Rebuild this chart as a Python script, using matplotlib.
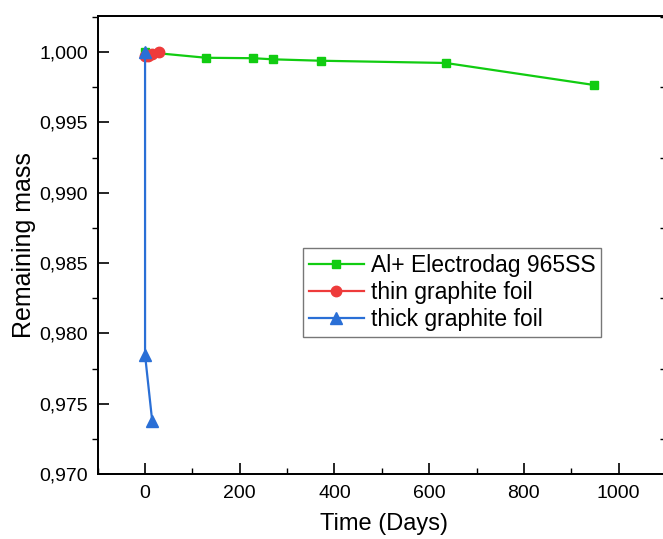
import matplotlib
matplotlib.use("Agg")
import matplotlib.pyplot as plt
from matplotlib.ticker import MultipleLocator, FuncFormatter

plt.rcParams['font.family'] = ['Liberation Sans', 'DejaVu Sans']

# Data
green_x = [0, 129, 228, 270, 371, 635, 949]
green_y = [1.0000, 0.99959, 0.99956, 0.99948, 0.99938, 0.99922, 0.99765]
red_x = [0, 7, 14, 30]
red_y = [0.99975, 0.99972, 0.99985, 1.00000]
blue_x = [0, 0, 15]
blue_y = [1.0000, 0.97846, 0.97379]

labels = ["Al+ Electrodag 965SS", "thin graphite foil", "thick graphite foil"]
green_c = '#11cc11'
red_c = '#ee3b3b'
blue_c = '#2a6fd6'

fig = plt.figure(figsize=(6.63, 5.39), dpi=100)
L, R, B, T = 97.7, 670, 474, 16
ax = fig.add_axes([L/663, (539-B)/539, (R-L)/663, (B-T)/539])

ax.plot(green_x, green_y, color=green_c, lw=1.6, marker='s', ms=6.2, label=labels[0])
ax.plot(red_x, red_y, color=red_c, lw=1.6, marker='o', ms=7.5, label=labels[1])
ax.plot(blue_x, blue_y, color=blue_c, lw=1.6, marker='^', ms=9, label=labels[2])

ax.set_xlim(-100, 1100 + (R-666)/0.474)
ax.set_ylim(0.970, 1.00256)
ax.xaxis.set_major_locator(MultipleLocator(200))
ax.xaxis.set_minor_locator(MultipleLocator(100))
ax.yaxis.set_major_locator(MultipleLocator(0.005))
ax.yaxis.set_minor_locator(MultipleLocator(0.0025))
ax.yaxis.set_major_formatter(FuncFormatter(lambda v, p: f"{v:.3f}".replace('.', ',')))

for s in ax.spines.values():
    s.set_linewidth(1.3)

ax.tick_params(axis='x', which='major', direction='in', length=8, width=1.2, labelsize=14, pad=8)
ax.tick_params(axis='x', which='minor', direction='in', length=4, width=1.0)
ax.tick_params(axis='y', which='major', direction='in', length=8, width=1.2, labelsize=14, pad=7)
ax.tick_params(axis='y', which='minor', direction='out', length=4, width=1.0)

ax2 = ax.twinx()
ax2.set_ylim(ax.get_ylim())
ax2.yaxis.set_major_locator(MultipleLocator(0.005))
ax2.yaxis.set_minor_locator(MultipleLocator(0.0025))
ax2.tick_params(axis='y', which='major', direction='out', length=8, width=1.0, labelright=False)
ax2.tick_params(axis='y', which='minor', direction='in', length=7, width=1.0)
for s in ax2.spines.values():
    s.set_linewidth(1.3)

ax.set_xlabel("Time (Days)", fontsize=17, labelpad=8)
ax.set_ylabel("Remaining mass", fontsize=18, labelpad=2)

leg = ax.legend(loc='upper left', bbox_to_anchor=((303-L)/(R-L), (B-248)/(B-T)),
                fontsize=16.5, frameon=True, fancybox=False, handlelength=2.4,
                borderpad=0.25, labelspacing=0.18, handletextpad=0.3, borderaxespad=0)
leg.get_frame().set_edgecolor('#555555')
leg.get_frame().set_linewidth(1.0)

fig.savefig("out.png", dpi=100)
